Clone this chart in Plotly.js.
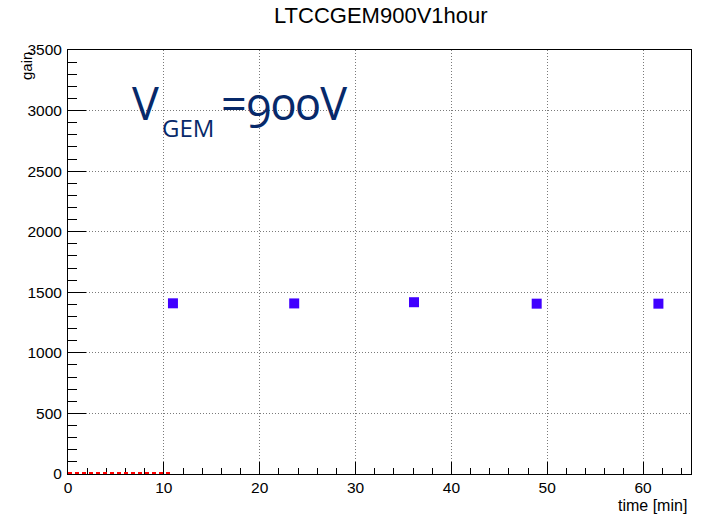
<!DOCTYPE html>
<html>
<head>
<meta charset="utf-8">
<script src="https://cdn.plot.ly/plotly-3.0.1.min.js"></script>
<style>
  html, body { margin: 0; padding: 0; background: #fff; }
  #chart { width: 703px; height: 514px; }
  /* old-style figures for the voltage label */
  .annotation-text { font-variant-numeric: oldstyle-nums; font-feature-settings: "onum" 1; }
</style>
</head>
<body>
<div id="chart"></div>
<script>
// Gain measured over one hour at V_GEM = 900 V
const timeMin = [10.95, 23.6, 36.1, 48.9, 61.6];
const gain = [1409, 1408, 1418, 1406, 1406];

// Baseline segment drawn at zero gain before the first measurement
const baseTime = [0, 10.9];
const baseGain = [0, 0];

const chartTitle = 'LTCCGEM900V1hour';
const xTitle = 'time [min]';
const yTitle = 'gain';
const labelMain = 'V';
const labelSub = 'GEM';
const labelRest = '=900V';

const tickFont = { family: 'Liberation Sans, Arial, sans-serif', size: 15.5, color: '#000' };
const labelFont = { family: 'Open Sans, Noto Sans, sans-serif', size: 45, color: '#07296a' };
const gridDash = '1px,2px';

const traces = [
  {
    x: baseTime, y: baseGain,
    type: 'scatter', mode: 'lines',
    line: { color: '#ff0000', width: 4, dash: '4px,3px' },
    cliponaxis: false, hoverinfo: 'skip', showlegend: false
  },
  {
    x: timeMin, y: gain,
    type: 'scatter', mode: 'markers',
    marker: { symbol: 'square', size: 10, color: '#4000ff', line: { width: 0 } },
    showlegend: false
  }
];

const layout = {
  width: 703, height: 514,
  margin: { l: 68, r: 12, t: 50, b: 40 },
  paper_bgcolor: '#ffffff', plot_bgcolor: '#ffffff',
  showlegend: false,
  xaxis: {
    range: [0, 65], dtick: 10, tick0: 0,
    ticks: 'inside', ticklen: 12, tickwidth: 1, tickcolor: '#000',
    minor: { dtick: 2, ticks: 'inside', ticklen: 6, tickwidth: 1, tickcolor: '#000', showgrid: false },
    showline: true, linecolor: '#000', linewidth: 1, mirror: true,
    showgrid: true, gridcolor: '#7a7a7a', gridwidth: 1, griddash: gridDash,
    zeroline: false, tickfont: tickFont, ticklabelstandoff: -1,
    layer: 'below traces'
  },
  yaxis: {
    range: [0, 3500], dtick: 500, tick0: 0,
    ticks: 'inside', ticklen: 18, tickwidth: 1, tickcolor: '#000',
    minor: { dtick: 100, ticks: 'inside', ticklen: 9, tickwidth: 1, tickcolor: '#000', showgrid: false },
    showline: true, linecolor: '#000', linewidth: 1, mirror: true,
    showgrid: true, gridcolor: '#7a7a7a', gridwidth: 1, griddash: gridDash,
    zeroline: false, tickfont: tickFont, ticklabelstandoff: 2,
    layer: 'below traces'
  },
  annotations: [
    {
      text: chartTitle, xref: 'paper', yref: 'paper',
      x: 0.5024, y: 1, yshift: 35, xanchor: 'center', yanchor: 'middle',
      showarrow: false,
      font: { family: 'Liberation Sans, Arial, sans-serif', size: 22, color: '#000' }
    },
    {
      text: xTitle, xref: 'paper', yref: 'paper',
      x: 1, xshift: -2, y: 0, yshift: -31, xanchor: 'right', yanchor: 'middle',
      showarrow: false,
      font: { family: 'Liberation Sans, Arial, sans-serif', size: 16, color: '#000' }
    },
    {
      text: yTitle, xref: 'paper', yref: 'paper',
      x: 0, y: 1, xshift: -42, xanchor: 'center', yanchor: 'top',
      textangle: -90, showarrow: false,
      font: { family: 'Liberation Sans, Arial, sans-serif', size: 15, color: '#000' }
    },
    {
      text: labelMain, xref: 'paper', yref: 'paper',
      x: 0, y: 1, xshift: 62, yshift: -20, xanchor: 'left', yanchor: 'top',
      showarrow: false, font: labelFont
    },
    {
      text: labelSub, xref: 'paper', yref: 'paper',
      x: 0, y: 1, xshift: 92, yshift: -59, xanchor: 'left', yanchor: 'top',
      showarrow: false, font: Object.assign({}, labelFont, { size: 24 })
    },
    {
      text: labelRest, xref: 'paper', yref: 'paper',
      x: 0, y: 1, xshift: 151, yshift: -20, xanchor: 'left', yanchor: 'top',
      showarrow: false, font: labelFont
    }
  ]
};

Plotly.newPlot('chart', traces, layout, { staticPlot: true, displayModeBar: false });
</script>
</body>
</html>
